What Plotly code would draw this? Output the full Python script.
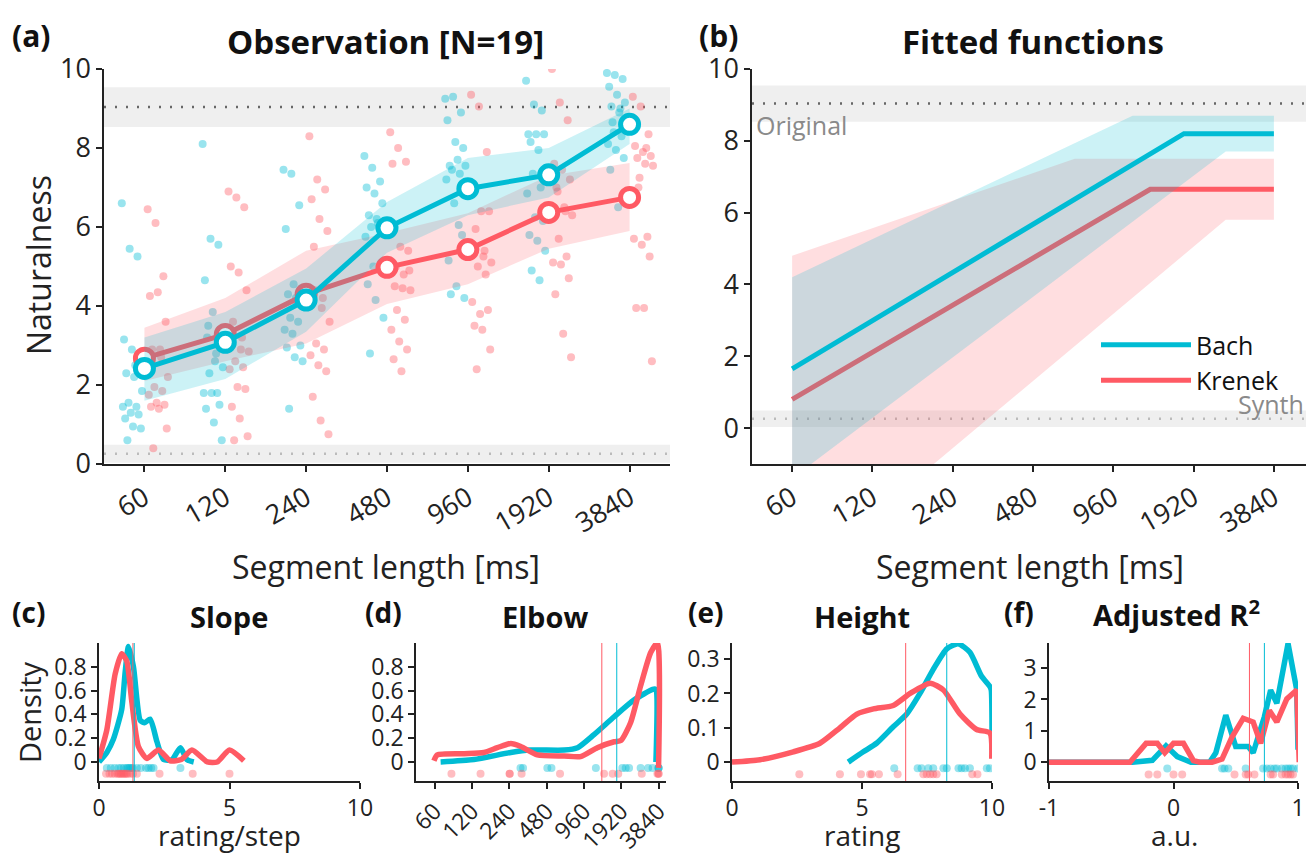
import plotly.graph_objects as go

# ---------------- data ----------------
lengths = ['60', '120', '240', '480', '960', '1920', '3840']
steps = [0, 1, 2, 3, 4, 5, 6]

bach_mean = [2.42, 3.08, 4.15, 5.98, 6.97, 7.32, 8.60]
krenek_mean = [2.68, 3.28, 4.30, 4.98, 5.43, 6.37, 6.75]
bach_hi = [3.20, 3.85, 4.95, 6.63, 7.75, 8.00, 9.00]
bach_lo = [1.60, 2.15, 3.35, 5.35, 6.30, 6.75, 8.10]
krenek_hi = [3.45, 4.20, 5.40, 5.85, 6.35, 7.30, 7.62]
krenek_lo = [2.10, 2.60, 3.05, 4.05, 4.55, 5.45, 5.90]

bach_ratings = [
    [6.6, 5.45, 5.25, 3.15, 2.9, 2.6, 2.3, 2.2, 1.85, 1.55, 1.45, 1.45, 1.3, 1.25, 1.15, 0.95, 0.9, 0.6, 2.5],
    [8.1, 5.7, 5.55, 4.65, 3.85, 3.3, 3.2, 2.6, 2.45, 2.3, 1.8, 1.8, 1.8, 1.5, 1.4, 1.05, 0.6, 3.5, 2.8],
    [7.45, 7.35, 6.55, 5.95, 4.55, 4.45, 4.3, 4.2, 4.0, 3.7, 3.6, 3.4, 3.3, 3.0, 2.95, 2.7, 2.6, 1.4, 4.1],
    [7.8, 7.5, 7.15, 7.0, 6.85, 6.6, 6.3, 6.2, 6.05, 6.0, 6.0, 5.75, 5.0, 4.9, 4.55, 4.15, 3.7, 2.8, 6.1],
    [9.25, 9.3, 8.9, 8.7, 8.15, 8.0, 7.55, 7.7, 7.55, 7.45, 7.35, 7.2, 6.6, 5.8, 5.15, 4.5, 4.2, 4.3, 6.05],
    [9.7, 9.1, 8.95, 8.35, 8.35, 8.35, 8.15, 7.95, 7.5, 7.35, 7.0, 6.85, 6.25, 6.15, 5.8, 5.65, 5.4, 4.9, 4.65],
    [9.9, 9.85, 9.75, 9.55, 9.35, 9.15, 9.05, 8.9, 8.55, 8.4, 8.3, 8.1, 7.95, 7.75, 7.45, 6.5, 8.7, 8.65, 9.0],
]
krenek_ratings = [
    [6.45, 6.1, 4.75, 4.25, 4.35, 3.6, 2.9, 2.9, 2.2, 1.95, 1.85, 1.75, 1.55, 1.5, 1.45, 1.4, 0.9, 0.4, 2.7],
    [6.9, 6.75, 6.5, 5.0, 4.85, 4.4, 3.6, 2.9, 2.85, 2.6, 2.45, 2.4, 1.95, 1.9, 1.45, 1.15, 0.7, 0.6, 3.2],
    [8.3, 7.2, 6.95, 6.7, 6.2, 5.9, 5.5, 3.95, 3.6, 3.05, 2.9, 2.75, 2.5, 2.35, 1.7, 1.1, 0.75, 4.4, 4.2],
    [8.4, 8.0, 7.65, 7.6, 5.5, 5.4, 4.5, 4.45, 4.4, 3.9, 3.65, 3.4, 3.1, 2.9, 2.65, 2.35, 4.9, 5.0, 4.8],
    [9.35, 9.05, 7.9, 6.95, 6.4, 6.4, 5.95, 5.25, 5.1, 5.0, 4.8, 4.1, 3.8, 3.9, 3.5, 3.4, 2.9, 2.4, 5.4],
    [10.0, 9.15, 8.7, 7.6, 7.45, 7.2, 7.0, 6.5, 6.3, 5.7, 5.25, 5.1, 5.05, 4.7, 4.3, 3.3, 2.7, 6.9, 6.4],
    [9.3, 9.05, 8.35, 8.05, 7.9, 7.8, 7.75, 7.6, 7.55, 7.25, 5.75, 5.7, 5.55, 5.25, 3.95, 3.95, 2.6, 7.0, 8.0],
]

original_mean = 9.04
original_ci = [8.53, 9.54]
synth_mean = 0.26
synth_ci = [0.03, 0.49]

# fitted functions (breakpoints in step units)
bach_fit_x = [0, 4.88, 6]
bach_fit_y = [1.65, 8.2, 8.2]
krenek_fit_x = [0, 4.46, 6]
krenek_fit_y = [0.8, 6.65, 6.65]
bach_fit_hi_x = [0, 4.24, 6]
bach_fit_hi_y = [4.2, 8.7, 8.7]
bach_fit_lo_x = [0, 5.4, 6]
bach_fit_lo_y = [-1.4, 7.7, 7.7]
krenek_fit_hi_x = [0, 3.52, 6]
krenek_fit_hi_y = [4.8, 7.5, 7.5]
krenek_fit_lo_x = [0, 5.4, 6]
krenek_fit_lo_y = [-4.3, 5.8, 5.8]

# (c) slope densities
slope_bach_x = [0.0, 0.3, 0.55, 0.87, 1.0, 1.13, 1.32, 1.58, 1.75, 1.96, 2.22, 2.47, 2.8, 3.12, 3.37, 3.63]
slope_bach_y = [0.0, 0.08, 0.19, 0.44, 0.75, 0.97, 0.80, 0.35, 0.33, 0.36, 0.17, 0.02, 0.02, 0.12, 0.02, 0.0]
slope_krenek_x = [0.0, 0.3, 0.62, 0.87, 1.06, 1.25, 1.51, 1.83, 2.28, 2.73, 3.15, 3.56, 4.15, 4.53, 5.0, 5.55]
slope_krenek_y = [0.03, 0.27, 0.74, 0.91, 0.85, 0.52, 0.13, 0.03, 0.10, 0.01, 0.02, 0.10, 0.0, 0.0, 0.10, 0.01]
slope_bach_pts = [0.3, 0.45, 0.6, 0.75, 0.85, 0.95, 1.05, 1.1, 1.15, 1.2, 1.25, 1.3, 1.45, 1.6, 1.8, 1.9, 2.0, 2.09, 3.12]
slope_krenek_pts = [0.27, 0.4, 0.5, 0.6, 0.7, 0.8, 0.85, 0.9, 0.95, 1.0, 1.1, 1.2, 1.3, 1.45, 0.75, 1.05, 2.32, 3.59, 5.0]
slope_median = [1.35, 1.3]

# (d) elbow densities (step units)
elbow_bach_x = [0.16, 1.05, 2.04, 2.57, 3.47, 3.83, 4.27, 4.81, 5.34, 5.84, 5.92, 5.93]
elbow_bach_y = [0.0, 0.02, 0.08, 0.10, 0.10, 0.12, 0.23, 0.38, 0.52, 0.61, 0.61, 0.0]
elbow_krenek_x = [-0.02, 0.07, 0.79, 1.32, 1.68, 2.04, 2.31, 2.75, 3.47, 3.91, 4.36, 4.81, 4.99, 5.25, 5.52, 5.79, 5.97, 6.0]
elbow_krenek_y = [0.01, 0.06, 0.07, 0.08, 0.12, 0.155, 0.13, 0.06, 0.05, 0.045, 0.12, 0.17, 0.18, 0.33, 0.64, 0.92, 1.0, -0.05]
elbow_bach_pts = [2.3, 2.37, 3.02, 3.13, 4.32, 5.03, 5.12, 5.21, 5.52, 5.72, 5.84, 6.0, 6.0, 6.0]
elbow_krenek_pts = [0.45, 1.23, 2.01, 2.01, 2.33, 3.36, 4.54, 4.77, 4.92, 5.55, 5.97, 6.0, 6.0]
elbow_median = [4.88, 4.48]

# (e) height densities
height_bach_x = [4.47, 5.05, 5.56, 6.2, 6.72, 7.23, 7.74, 8.26, 8.7, 9.15, 9.6, 9.92, 9.97, 10.0]
height_bach_y = [0.0, 0.03, 0.055, 0.103, 0.14, 0.2, 0.27, 0.33, 0.345, 0.32, 0.25, 0.22, 0.21, 0.035]
height_krenek_x = [0.0, 1.08, 2.36, 3.38, 4.15, 4.8, 5.44, 6.2, 6.85, 7.62, 8.13, 8.77, 9.41, 9.92, 9.99]
height_krenek_y = [0.0, 0.007, 0.03, 0.055, 0.1, 0.14, 0.155, 0.165, 0.2, 0.23, 0.21, 0.14, 0.095, 0.085, 0.01]
height_bach_pts = [6.24, 7.14, 7.29, 7.55, 7.74, 8.13, 8.26, 8.71, 8.83, 8.96, 9.15, 9.8, 9.92]
height_krenek_pts = [2.59, 4.15, 4.96, 5.31, 5.38, 5.65, 6.37, 7.36, 7.49, 7.62, 7.74, 7.87, 9.24, 9.44]
height_median = [8.26, 6.68]

# (f) adjusted R^2 densities
r2_bach_x = [-1.0, -0.33, -0.17, -0.06, 0.03, 0.14, 0.29, 0.34, 0.42, 0.5, 0.6, 0.64, 0.73, 0.78, 0.83, 0.92, 0.99, 1.0]
r2_bach_y = [0.0, 0.0, 0.06, 0.52, 0.18, 0.0, 0.0, 0.3, 1.5, 0.5, 0.5, 0.3, 1.45, 2.3, 1.88, 3.78, 2.3, 0.4]
r2_krenek_x = [-1.0, -0.35, -0.22, -0.13, -0.07, 0.0, 0.08, 0.16, 0.21, 0.31, 0.39, 0.47, 0.56, 0.64, 0.70, 0.77, 0.83, 0.91, 0.99, 1.01]
r2_krenek_y = [0.0, 0.0, 0.6, 0.6, 0.3, 0.6, 0.6, 0.05, 0.0, 0.0, 0.1, 0.8, 1.4, 1.28, 0.6, 1.65, 1.28, 2.02, 2.3, 0.0]
r2_bach_pts = [-0.05, 0.39, 0.41, 0.44, 0.58, 0.72, 0.75, 0.78, 0.81, 0.83, 0.87, 0.9, 0.92, 0.94, 0.96, 1.0]
r2_krenek_pts = [-0.2, -0.13, 0.0, 0.07, 0.49, 0.58, 0.6, 0.65, 0.78, 0.8, 0.87, 0.9, 0.92, 0.94, 0.96]
r2_median = [0.73, 0.61]

# ---------------- style ----------------
OFF = 8                                   # default page margin of the html body
W, H = 1314 - 2 * OFF, 863 - 2 * OFF      # keep the page free of scrollbars
RIGHT = OFF + W                           # last visible pixel column
CYAN = '#00BCD4'
RED = '#FF5A64'
CYAN_BAND = 'rgba(0,188,212,0.2)'
RED_BAND = 'rgba(255,90,100,0.2)'
CYAN_DOT = 'rgba(0,188,212,0.4)'
RED_DOT = 'rgba(255,90,100,0.4)'
FONT = 'Open Sans'
INK = '#222222'


def px(x):
    return min(1.0, (x - OFF) / W)


def py(y):
    return 1 - (y - OFF) / H


fig = go.Figure()

# ---------- (a) observations ----------
for ratings, color, base in [(bach_ratings, CYAN_DOT, -0.28), (krenek_ratings, RED_DOT, 0.04)]:
    xs, ys = [], []
    for s, vals in zip(steps, ratings):
        n = len(vals)
        for i, v in enumerate(vals):
            frac = ((i * 7) % n) / (n - 1)
            xs.append(s + base + 0.25 * frac)
            ys.append(v)
    fig.add_trace(go.Scatter(x=xs, y=ys, mode='markers', xaxis='x', yaxis='y',
                             marker=dict(size=8, color=color), showlegend=False, hoverinfo='skip'))

for mean, hi, lo, col, band in [(krenek_mean, krenek_hi, krenek_lo, RED, RED_BAND),
                                (bach_mean, bach_hi, bach_lo, CYAN, CYAN_BAND)]:
    fig.add_trace(go.Scatter(x=steps + steps[::-1], y=hi + lo[::-1], fill='toself', fillcolor=band,
                             line=dict(width=0), mode='lines', xaxis='x', yaxis='y', showlegend=False,
                             hoverinfo='skip'))
    fig.add_trace(go.Scatter(x=steps, y=mean, mode='lines+markers', xaxis='x', yaxis='y',
                             line=dict(color=col, width=5),
                             marker=dict(size=18, color='white', line=dict(color=col, width=5)),
                             showlegend=False))

# ---------- (b) fitted functions ----------
fig.add_trace(go.Scatter(x=krenek_fit_hi_x + krenek_fit_lo_x[::-1], y=krenek_fit_hi_y + krenek_fit_lo_y[::-1],
                         fill='toself', fillcolor=RED_BAND, line=dict(width=0), mode='lines',
                         xaxis='x2', yaxis='y2', showlegend=False, hoverinfo='skip'))
fig.add_trace(go.Scatter(x=krenek_fit_x, y=krenek_fit_y, mode='lines', line=dict(color=RED, width=5),
                         xaxis='x2', yaxis='y2', showlegend=False))
fig.add_trace(go.Scatter(x=bach_fit_hi_x + bach_fit_lo_x[::-1], y=bach_fit_hi_y + bach_fit_lo_y[::-1],
                         fill='toself', fillcolor=CYAN_BAND, line=dict(width=0), mode='lines',
                         xaxis='x2', yaxis='y2', showlegend=False, hoverinfo='skip'))
fig.add_trace(go.Scatter(x=bach_fit_x, y=bach_fit_y, mode='lines', line=dict(color=CYAN, width=5),
                         xaxis='x2', yaxis='y2', name='Bach', showlegend=True))
fig.add_trace(go.Scatter(x=[None], y=[None], mode='lines', line=dict(color=RED, width=5),
                         xaxis='x2', yaxis='y2', name='Krenek', showlegend=True))

# ---------- bottom densities ----------
bottom = [
    ('x3', 'y3', slope_bach_x, slope_bach_y, slope_krenek_x, slope_krenek_y,
     slope_bach_pts, slope_krenek_pts, slope_median, 'spline', (-0.05, -0.10)),
    ('x4', 'y4', elbow_bach_x, elbow_bach_y, elbow_krenek_x, elbow_krenek_y,
     elbow_bach_pts, elbow_krenek_pts, elbow_median, 'spline', (-0.05, -0.10)),
    ('x5', 'y5', height_bach_x, height_bach_y, height_krenek_x, height_krenek_y,
     height_bach_pts, height_krenek_pts, height_median, 'spline', (-0.018, -0.035)),
    ('x6', 'y6', r2_bach_x, r2_bach_y, r2_krenek_x, r2_krenek_y,
     r2_bach_pts, r2_krenek_pts, r2_median, 'linear', (-0.2, -0.39)),
]
shapes = []
for xa, ya, bx, by, kx, ky, bp, kp, med, shape, (rb, rk) in bottom:
    fig.add_trace(go.Scatter(x=bp, y=[rb] * len(bp), mode='markers', xaxis=xa, yaxis=ya,
                             marker=dict(size=8, color=CYAN_DOT), showlegend=False, hoverinfo='skip'))
    fig.add_trace(go.Scatter(x=kp, y=[rk] * len(kp), mode='markers', xaxis=xa, yaxis=ya,
                             marker=dict(size=8, color=RED_DOT), showlegend=False, hoverinfo='skip'))
    fig.add_trace(go.Scatter(x=bx, y=by, mode='lines', xaxis=xa, yaxis=ya,
                             line=dict(color=CYAN, width=5.5, shape=shape, smoothing=0.6),
                             showlegend=False))
    fig.add_trace(go.Scatter(x=kx, y=ky, mode='lines', xaxis=xa, yaxis=ya,
                             line=dict(color=RED, width=5.5, shape=shape, smoothing=0.6),
                             showlegend=False))
    shapes.append(dict(type='line', xref=xa, yref=ya + ' domain', x0=med[1], x1=med[1], y0=0, y1=1,
                       line=dict(color=RED, width=1)))
    shapes.append(dict(type='line', xref=xa, yref=ya + ' domain', x0=med[0], x1=med[0], y0=0, y1=1,
                       line=dict(color=CYAN, width=1)))

# reference bands in (a) and (b)
for xa, ya in [('x', 'y'), ('x2', 'y2')]:
    shapes.append(dict(type='rect', xref=xa + ' domain', yref=ya, x0=0, x1=1,
                       y0=original_ci[0], y1=original_ci[1], fillcolor='#EFEFEF',
                       line=dict(width=0), layer='below'))
    shapes.append(dict(type='rect', xref=xa + ' domain', yref=ya, x0=0, x1=1,
                       y0=synth_ci[0], y1=synth_ci[1], fillcolor='#EFEFEF',
                       line=dict(width=0), layer='below'))
    shapes.append(dict(type='line', xref=xa + ' domain', yref=ya, x0=0, x1=1,
                       y0=original_mean, y1=original_mean,
                       line=dict(color='#666666', width=2.5, dash='2px,9px'), layer='below'))
    shapes.append(dict(type='line', xref=xa + ' domain', yref=ya, x0=0, x1=1,
                       y0=synth_mean, y1=synth_mean,
                       line=dict(color='#BBBBBB', width=2.5, dash='2px,9px'), layer='below'))


# ---------------- axes ----------------
def ax(domain, rng, anchor, tickvals, ticktext, angle=0, size=27):
    return dict(domain=domain, range=rng, anchor=anchor, showline=True, linecolor=INK, linewidth=1.5,
                ticks='outside', ticklen=6, tickwidth=1.5, tickcolor=INK, showgrid=False, zeroline=False,
                automargin=False, tickmode='array', tickvals=tickvals, ticktext=ticktext,
                tickfont=dict(family=FONT, size=size, color=INK), tickangle=angle)


ya_dom = [py(464), py(69)]
yb_dom = [py(781), py(643)]
BT = 23  # bottom tick font size

layout = dict(
    width=W, height=H, margin=dict(l=0, r=0, t=0, b=0), template='none',
    paper_bgcolor='white', plot_bgcolor='rgba(0,0,0,0)',
    font=dict(family=FONT, color=INK),
    xaxis=ax([px(104), px(670)], [-0.5, 6.5], 'y', steps, lengths, -30),
    yaxis=ax(ya_dom, [0, 10], 'x', [0, 2, 4, 6, 8, 10], ['0', '2', '4', '6', '8', '10']),
    xaxis2=ax([px(752), 1.0], [-0.5, 6.4], 'y2', steps, lengths, -30),
    yaxis2=ax(ya_dom, [-1, 10], 'x2', [0, 2, 4, 6, 8, 10], ['0', '2', '4', '6', '8', '10']),
    xaxis3=ax([px(99), px(360)], [0, 10], 'y3', [0, 5, 10], ['0', '5', '10'], 0, BT),
    yaxis3=ax(yb_dom, [-0.16, 1.0], 'x3', [0, 0.2, 0.4, 0.6, 0.8], ['0', '0.2', '0.4', '0.6', '0.8'], 0, BT),
    xaxis4=ax([px(416), px(666)], [-0.5, 6.2], 'y4', steps, lengths, -45, BT),
    yaxis4=ax(yb_dom, [-0.16, 1.0], 'x4', [0, 0.2, 0.4, 0.6, 0.8], ['0', '0.2', '0.4', '0.6', '0.8'], 0, BT),
    xaxis5=ax([px(732), px(992)], [0, 10], 'y5', [0, 5, 10], ['0', '5', '10'], 0, BT),
    yaxis5=ax(yb_dom, [-0.055, 0.347], 'x5', [0, 0.1, 0.2, 0.3], ['0', '0.1', '0.2', '0.3'], 0, BT),
    xaxis6=ax([px(1049), px(RIGHT - 8)], [-1, 1], 'y6', [-1, 0, 1], ['-1', '0', '1'], 0, BT),
    yaxis6=ax(yb_dom, [-0.6, 3.8], 'x6', [0, 1, 2, 3], ['0', '1', '2', '3'], 0, BT),
    shapes=shapes,
    showlegend=True,
    legend=dict(x=px(1096), y=py(322), xanchor='left', yanchor='top', bgcolor='rgba(0,0,0,0)',
                font=dict(family=FONT, size=25, color='#111111'), itemwidth=90,
                tracegroupgap=0),
)

ann = []


def text(x, y, s, size, bold=False, color='#111111', xanchor='center', angle=0):
    ann.append(dict(x=px(x), y=py(y), xref='paper', yref='paper', text=('<b>%s</b>' % s) if bold else s,
                    showarrow=False, xanchor=xanchor, yanchor='middle', textangle=angle,
                    font=dict(family=FONT, size=size, color=color)))


# panel letters & titles
text(10, 35, '(a)', 30, True, xanchor='left')
text(385, 42, 'Observation [N=19]', 33, True)
text(697, 35, '(b)', 30, True, xanchor='left')
text(1033, 42, 'Fitted functions', 33, True)
text(10, 612, '(c)', 28, True, xanchor='left')
text(229, 616, 'Slope', 29, True)
text(363, 612, '(d)', 28, True, xanchor='left')
text(545, 616, 'Elbow', 29, True)
text(686, 612, '(e)', 28, True, xanchor='left')
text(862, 616, 'Height', 29, True)
text(1002, 612, '(f)', 28, True, xanchor='left')
text(1176, 613, 'Adjusted R<sup>2</sup>', 29, True)

# axis titles
text(38, 265, 'Naturalness', 32, angle=-90, color=INK)
text(386, 566, 'Segment length [ms]', 32, color=INK)
text(1030, 566, 'Segment length [ms]', 32, color=INK)
text(29, 712, 'Density', 29, angle=-90, color=INK)
text(229, 835, 'rating/step', 28, color=INK)
text(862, 835, 'rating', 28, color=INK)
text(1174, 835, 'a.u.', 28, color=INK)

# reference labels in (b)
ann.append(dict(x=-0.47, y=8.45, xref='x2', yref='y2', text='Original', showarrow=False,
                xanchor='left', yanchor='middle', font=dict(family=FONT, size=25, color='#8A8A8A')))
ann.append(dict(x=1.0, y=0.68, xref='paper', yref='y2', text='Synth', showarrow=False,
                xanchor='right', yanchor='middle', font=dict(family=FONT, size=25, color='#8A8A8A')))

layout['annotations'] = ann
fig.update_layout(**layout)
fig.write_html('out.html')
